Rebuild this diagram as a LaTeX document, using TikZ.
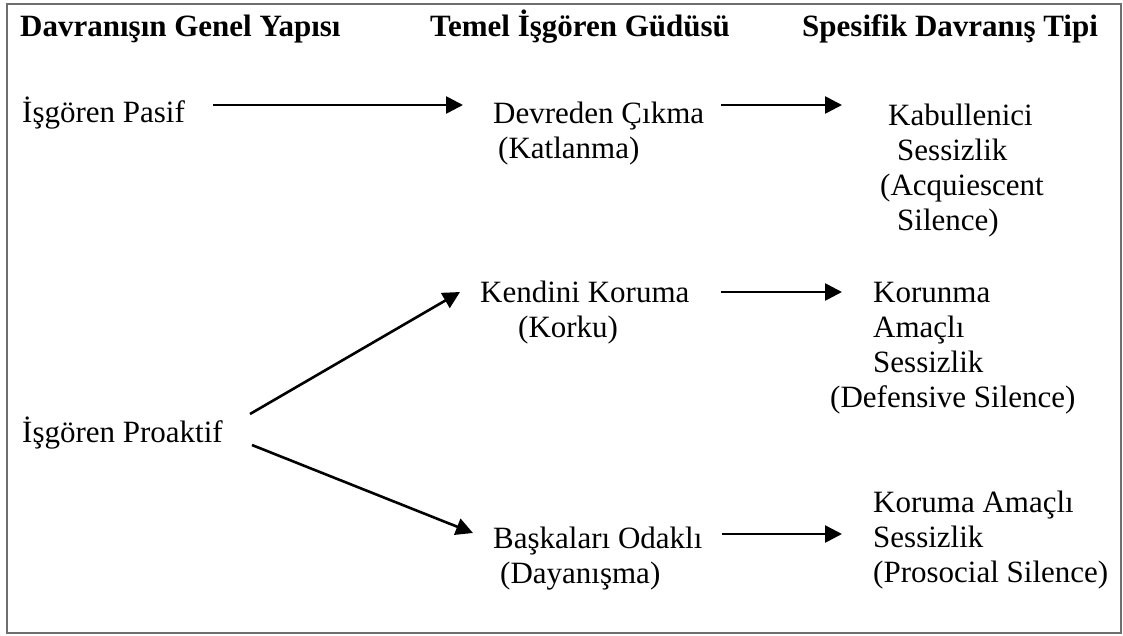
\documentclass[tikz,border=0pt]{standalone}
\usepackage{fontspec}
\setmainfont{Liberation Serif}
\usetikzlibrary{arrows.meta,calc}

\tikzset{
  txt/.style={inner sep=0pt, anchor=base west, font=\fontsize{31}{35}\selectfont},
  head/.style={txt, font=\fontsize{31}{35}\selectfont\bfseries},
  arr/.style={line width=2.6pt, -{Triangle[length=17pt,width=17pt]}},
  frame/.style={draw={rgb,255:red,110;green,110;blue,110}, line width=2.4pt}
}

\newcommand{\lines}[1]{\begin{tabular}[t]{@{}l@{}}#1\end{tabular}}

\begin{document}
\begin{tikzpicture}[x=1pt,y=-1pt]
  \useasboundingbox (0,0) rectangle (1123,635);
  \draw[frame] (7,4) rectangle (1121,633);

  % column headings
  \node[head] (h1) at (20,36) {Davranışın Genel Yapısı};
  \node[head] (h2) at (430,36) {Temel İşgören Güdüsü};
  \node[head] (h3) at (802,36) {Spesifik Davranış Tipi};

  % general behaviour
  \node[txt] (pasif) at (22,122) {İşgören Pasif};
  \node[txt] (proaktif) at (22,442) {İşgören Proaktif};

  % basic motive
  \node[txt] (devreden) at (493,123) {\lines{Devreden Çıkma\\\hspace*{5pt}(Katlanma)}};
  \node[txt] (kendini) at (480,302) {\lines{Kendini Koruma\\\hspace*{38pt}(Korku)}};
  \node[txt] (baskalari) at (493,548) {\lines{Başkaları Odaklı\\\hspace*{7pt}(Dayanışma)}};

  % specific behaviour type
  \node[txt] (kabul) at (880,125) {\lines{\hspace*{8pt}Kabullenici\\\hspace*{17pt}Sessizlik\\(Acquiescent\\\hspace*{17pt}Silence)}};
  \node[txt] (korunma) at (830,302) {\lines{\hspace*{43pt}Korunma\\\hspace*{43pt}Amaçlı\\\hspace*{43pt}Sessizlik\\(Defensive Silence)}};
  \node[txt] (koruma) at (873,512) {\lines{Koruma Amaçlı\\Sessizlik\\(Prosocial Silence)}};

  % connectors
  \draw[arr] ($(pasif.base east)+(28,-17)$) -- ($(devreden.base west)+(-30,-18)$);
  \draw[arr] ($(devreden.base east)+(17,-18)$) -- ($(kabul.base west)+(-38,-20)$);
  \draw[arr] ($(proaktif.base east)+(27,-28)$) -- ($(kendini.base west)+(-20,-10)$);
  \draw[arr] ($(kendini.base east)+(31,-10)$) -- ($(korunma.base west)+(12,-10)$);
  \draw[arr] ($(proaktif.base east)+(29,3)$) -- ($(baskalari.base west)+(-20,-15)$);
  \draw[arr] ($(baskalari.base east)+(19,-14)$) -- ($(koruma.base west)+(-31,22)$);
\end{tikzpicture}
\end{document}
